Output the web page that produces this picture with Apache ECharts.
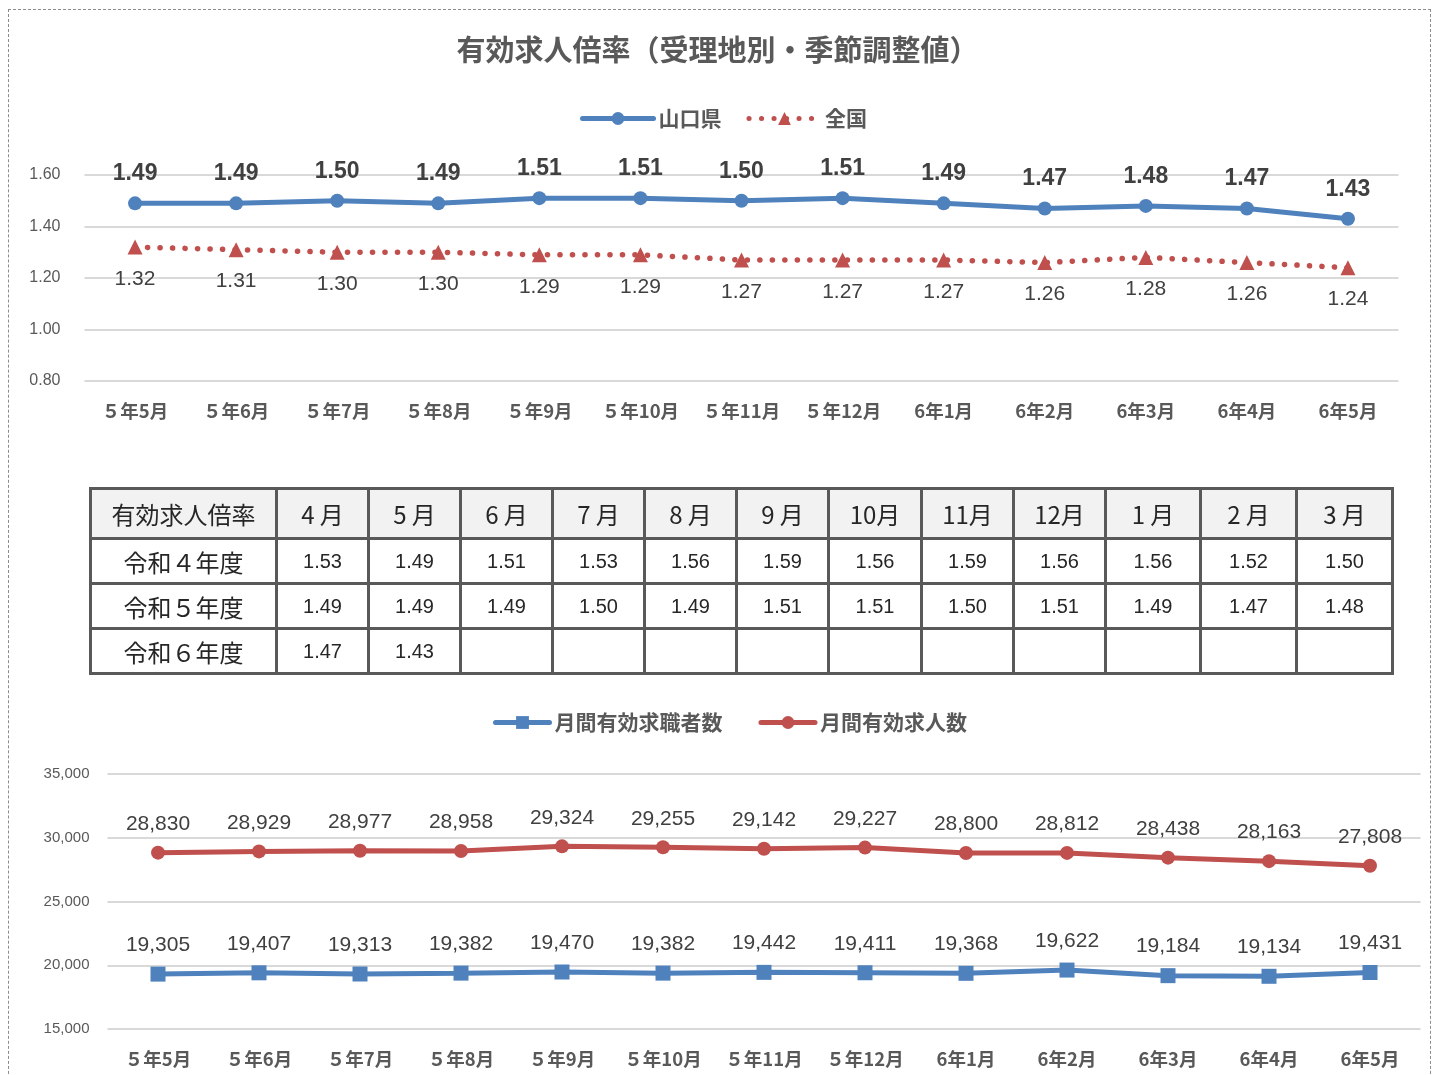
<!DOCTYPE html>
<html>
<head>
<meta charset="utf-8">
<script src="https://cdn.jsdelivr.net/npm/echarts@6/dist/echarts.min.js"></script>
<style>
  html, body { margin: 0; padding: 0; background: #fff; }
  #wrap { position: relative; width: 1435px; height: 1075px; overflow: hidden; }
  #frame { position: absolute; left: 8px; top: 9px; width: 1423px; height: 1100px; border: 1px dashed #8c8c8c; box-sizing: border-box; }
  #chart { position: absolute; left: 0; top: 0; width: 1435px; height: 1075px; }
  #tbl { position: absolute; left: 89px; top: 487px; border-collapse: collapse; table-layout: fixed; width: 1302px; }
  #tbl td, #tbl th { border: 3px solid #595959; text-align: center; padding: 0; color: #262626; }
  #tbl th { background: #F2F2F2; font-weight: normal; height: 47px; font-family: 'Noto Sans CJK JP'; font-size: 24px; }
  #tbl td { height: 42px; font-family: 'Liberation Sans', Arial, sans-serif; font-size: 20px; }
  #tbl td.rl { font-family: 'Noto Sans CJK JP'; font-size: 24px; }
</style>
</head>
<body>
<div id="wrap">
  <div id="frame"></div>
  <div id="chart"></div>
  <table id="tbl"></table>
</div>
<script>
// ---- data ----
const categories = ['５年5月','５年6月','５年7月','５年8月','５年9月','５年10月','５年11月','５年12月','6年1月','6年2月','6年3月','6年4月','6年5月'];
const yamaguchi = [1.49,1.49,1.50,1.49,1.51,1.51,1.50,1.51,1.49,1.47,1.48,1.47,1.43];
const zenkoku   = [1.32,1.31,1.30,1.30,1.29,1.29,1.27,1.27,1.27,1.26,1.28,1.26,1.24];
const seekers   = [19305,19407,19313,19382,19470,19382,19442,19411,19368,19622,19184,19134,19431];
const openings  = [28830,28929,28977,28958,29324,29255,29142,29227,28800,28812,28438,28163,27808];

const tableCorner = '有効求人倍率';
const tableMonths = ['4 月','5 月','6 月','7 月','8 月','9 月','10月','11月','12月','1 月','2 月','3 月'];
const tableRowLabels = ['令和４年度','令和５年度','令和６年度'];
const ratioR4 = [1.53,1.49,1.51,1.53,1.56,1.59,1.56,1.59,1.56,1.56,1.52,1.50];
const ratioR5 = [1.49,1.49,1.49,1.50,1.49,1.51,1.51,1.50,1.51,1.49,1.47,1.48];
const ratioR6 = [1.47,1.43];

// ---- table ----
const colWidths = [186,92,92,92,92,92,92,93,92,92,95,96,96];
(function buildTable(){
  const t = document.getElementById('tbl');
  const cg = document.createElement('colgroup');
  colWidths.forEach(w => { const c = document.createElement('col'); c.style.width = w + 'px'; cg.appendChild(c); });
  t.appendChild(cg);
  const hr = document.createElement('tr');
  [tableCorner].concat(tableMonths).forEach(h => { const th = document.createElement('th'); th.textContent = h; hr.appendChild(th); });
  t.appendChild(hr);
  [ratioR4, ratioR5, ratioR6].forEach((vals, i) => {
    const tr = document.createElement('tr');
    const l = document.createElement('td'); l.className = 'rl'; l.textContent = tableRowLabels[i]; tr.appendChild(l);
    for (let k = 0; k < tableMonths.length; k++) {
      const td = document.createElement('td');
      td.textContent = vals[k] != null ? vals[k].toFixed(2) : '';
      tr.appendChild(td);
    }
    t.appendChild(tr);
  });
})();

// ---- chart ----
const BLUE = '#4F81BD', RED = '#C0504D', GRID = '#D9D9D9', TXT = '#595959', LBL = '#404040';
const JP = "'Noto Sans CJK JP', sans-serif";
const NUM = "'Liberation Sans', Arial, sans-serif";

const chart = echarts.init(document.getElementById('chart'), null, { renderer: 'canvas' });
chart.setOption({
  animation: false,
  title: {
    text: '有効求人倍率（受理地別・季節調整値）',
    left: 'center', top: 30,
    textStyle: { fontFamily: JP, fontSize: 29, fontWeight: 'bold', color: TXT }
  },
  legend: [
    {
      data: ['山口県', '全国'], left: 575, top: 103,
      itemWidth: 71, itemHeight: 16, itemGap: 25,
      lineStyle: { width: 5, cap: 'round' },
      textStyle: { fontFamily: JP, fontSize: 21, fontWeight: 'bold', color: TXT }
    },
    {
      data: ['月間有効求職者数', '月間有効求人数'], left: 488, top: 707,
      itemWidth: 54, itemHeight: 16, itemGap: 36,
      lineStyle: { width: 5, cap: 'round' },
      textStyle: { fontFamily: JP, fontSize: 21, fontWeight: 'bold', color: TXT }
    }
  ],
  grid: [
    { left: 84.5, right: 36.5, top: 175, height: 206 },
    { left: 107.5, right: 14.5, top: 774, height: 255 }
  ],
  xAxis: [
    {
      gridIndex: 0, type: 'category', data: categories, boundaryGap: true,
      axisLine: { show: false }, axisTick: { show: false },
      axisLabel: { margin: 21, fontFamily: JP, fontSize: 18.5, fontWeight: 'bold', color: TXT, interval: 0 }
    },
    {
      gridIndex: 1, type: 'category', data: categories, boundaryGap: true,
      axisLine: { show: false }, axisTick: { show: false },
      axisLabel: { margin: 21, fontFamily: JP, fontSize: 18.5, fontWeight: 'bold', color: TXT, interval: 0 }
    }
  ],
  yAxis: [
    {
      gridIndex: 0, type: 'value', min: 0.8, max: 1.6, interval: 0.2,
      axisLine: { show: false }, axisTick: { show: false },
      splitLine: { lineStyle: { color: GRID, width: 2 } },
      axisLabel: { margin: 24, fontFamily: NUM, fontSize: 16, color: TXT, formatter: v => v.toFixed(2) }
    },
    {
      gridIndex: 1, type: 'value', min: 15000, max: 35000, interval: 5000,
      axisLine: { show: false }, axisTick: { show: false },
      splitLine: { lineStyle: { color: GRID, width: 2 } },
      axisLabel: { margin: 18, fontFamily: NUM, fontSize: 15, color: TXT, formatter: v => v.toLocaleString('en-US') }
    }
  ],
  series: [
    {
      name: '山口県', type: 'line', xAxisIndex: 0, yAxisIndex: 0, data: yamaguchi,
      symbol: 'circle', symbolSize: 14,
      lineStyle: { color: BLUE, width: 5 }, itemStyle: { color: BLUE },
      label: { show: true, position: 'top', distance: 11, fontFamily: NUM, fontSize: 23, fontWeight: 'bold', color: LBL, formatter: p => p.value.toFixed(2) },
      z: 3
    },
    {
      name: '全国', type: 'line', xAxisIndex: 0, yAxisIndex: 0, data: zenkoku,
      symbol: 'triangle', symbolSize: 15,
      lineStyle: { color: RED, width: 5.5, type: [0.1, 12.4], cap: 'round' }, itemStyle: { color: RED },
      label: { show: true, position: 'bottom', distance: 14, fontFamily: NUM, fontSize: 21, color: LBL, formatter: p => p.value.toFixed(2) },
      z: 2
    },
    {
      name: '月間有効求職者数', type: 'line', xAxisIndex: 1, yAxisIndex: 1, data: seekers,
      symbol: 'rect', symbolSize: 15,
      lineStyle: { color: BLUE, width: 5 }, itemStyle: { color: BLUE },
      label: { show: true, position: 'top', distance: 11, fontFamily: NUM, fontSize: 21, color: LBL, formatter: p => p.value.toLocaleString('en-US') }
    },
    {
      name: '月間有効求人数', type: 'line', xAxisIndex: 1, yAxisIndex: 1, data: openings,
      symbol: 'circle', symbolSize: 14,
      lineStyle: { color: RED, width: 5 }, itemStyle: { color: RED },
      label: { show: true, position: 'top', distance: 11, fontFamily: NUM, fontSize: 21, color: LBL, formatter: p => p.value.toLocaleString('en-US') }
    }
  ]
});
</script>
</body>
</html>
